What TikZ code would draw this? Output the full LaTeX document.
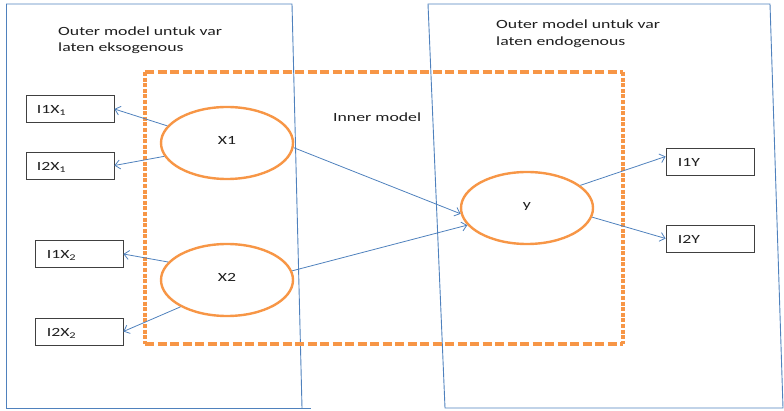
\documentclass[tikz,border=0pt]{standalone}
\usepackage{fontspec}
\usepackage{graphicx}
\setmainfont{Carlito}
\usetikzlibrary{shapes.geometric,arrows.meta}
\definecolor{lineblue}{RGB}{79,129,189}
\definecolor{latentorange}{RGB}{247,150,70}
\definecolor{inkgray}{RGB}{30,30,30}
% widened text, as the labels are set a little broad
\newcommand{\widetxt}[1]{\scalebox{1.42}[1]{#1}}
\tikzset{
  frame/.style={draw=lineblue,line width=0.9pt},
  latent/.style={ellipse,draw=latentorange,line width=2.4pt,minimum width=132pt,minimum height=72pt,inner sep=0pt,text=inkgray,font=\fontsize{12.5}{14}\selectfont},
  indicator/.style={rectangle,draw=black!75,line width=0.8pt,minimum width=88pt,minimum height=27pt,inner sep=0pt},
  lbl/.style={anchor=base west,inner sep=0pt,text=inkgray,font=\fontsize{12.5}{14}\selectfont},
  path/.style={draw=lineblue,line width=0.8pt,-{Straight Barb[length=5pt,width=9pt]}},
  innerbox/.style={draw=latentorange,line width=3.2pt},
}
\begin{document}
\begin{tikzpicture}[x=1pt,y=-1pt]
\useasboundingbox (0,0) rectangle (784,411);
% outer model frames
\draw[frame] (6,4) -- (292,4) -- (302,408);
\draw[frame] (6,4) -- (6,408) -- (311,408);
\draw[frame] (428,4) -- (770,4) -- (783,408) -- (445,408) -- cycle;
% inner model boundary
\draw[innerbox,dash pattern=on 9pt off 3.5pt] (145,72) -- (623,72);
\draw[innerbox,dash pattern=on 9pt off 3.5pt] (145,344) -- (623,344);
\draw[innerbox,dash pattern=on 4pt off 1.6pt] (145,72) -- (145,344);
\draw[innerbox,dash pattern=on 4pt off 1.6pt] (623,72) -- (623,344);
% captions
\node[lbl] (capL1) at (58,35.7) {\widetxt{Outer model untuk var}};
\node[lbl] (capL2) at (58,51.5) {\widetxt{laten eksogenous}};
\node[lbl] (capR1) at (496,28.5) {\widetxt{Outer model untuk var}};
\node[lbl] (capR2) at (496,46) {\widetxt{laten endogenous}};
\node[lbl] (capI) at (333,122) {\widetxt{Inner model}};
% latent variables
\node[latent] (x1) at (227,143) {\raisebox{6pt}{\widetxt{X1}}};
\node[latent] (x2) at (227,280) {\raisebox{5pt}{\widetxt{X2}}};
\node[latent] (y) at (527,208) {\raisebox{4pt}{\widetxt{y}}};
% indicators
\node[indicator] (i1x1) at (70,109) {};
\node[indicator] (i2x1) at (70,165.5) {};
\node[indicator] (i1x2) at (79,254) {};
\node[indicator] (i2x2) at (79,331.5) {};
\node[indicator] (i1y) at (710,161.5) {};
\node[indicator] (i2y) at (710,238.5) {};
\node[lbl] (t1) at ([xshift=11pt,yshift=-5pt]i1x1.west) {\widetxt{I1X\textsubscript{1}}};
\node[lbl] (t2) at ([xshift=11pt,yshift=-5pt]i2x1.west) {\widetxt{I2X\textsubscript{1}}};
\node[lbl] (t3) at ([xshift=12pt,yshift=-5pt]i1x2.west) {\widetxt{I1X\textsubscript{2}}};
\node[lbl] (t4) at ([xshift=12pt,yshift=-5pt]i2x2.west) {\widetxt{I2X\textsubscript{2}}};
\node[lbl] (t5) at ([xshift=12pt,yshift=-5pt]i1y.west) {\widetxt{I1Y}};
\node[lbl] (t6) at ([xshift=12pt,yshift=-5pt]i2y.west) {\widetxt{I2Y}};
% paths
\draw[path] (x1.164) -- (i1x1.east);
\draw[path] (x1.192) -- (i2x1.east);
\draw[path] (x2.163) -- (i1x2.east);
\draw[path] (x2.210) -- (i2x2.east);
\draw[path] (x1.356) -- (y.185);
\draw[path] (x2.8) -- (y.196);
\draw[path] (y.23) -- ([yshift=5pt]i1y.west);
\draw[path] (y.352) -- (i2y.west);
\end{tikzpicture}
\end{document}
